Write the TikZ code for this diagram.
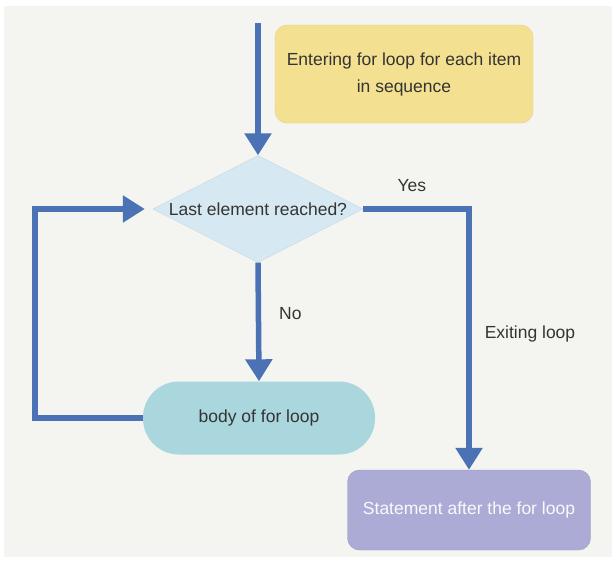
\documentclass[tikz,border=0pt]{standalone}
\usepackage{fontspec}
\setmainfont{Liberation Sans}
\usetikzlibrary{shapes.geometric, arrows.meta, positioning}

\definecolor{flowblue}{RGB}{76,114,182}
\definecolor{panelgrey}{RGB}{244,244,240}
\definecolor{entryfill}{RGB}{243,224,145}
\definecolor{entryline}{RGB}{226,208,140}
\definecolor{condfill}{RGB}{214,232,241}
\definecolor{condline}{RGB}{196,216,228}
\definecolor{bodyfill}{RGB}{170,214,222}
\definecolor{afterfill}{RGB}{171,171,214}
\definecolor{textgrey}{RGB}{52,52,50}

\begin{document}
\begin{tikzpicture}[x=1pt, y=-1pt,
  every node/.style={font=\fontsize{17.5}{27}\selectfont, text=textgrey},
  flow/.style={draw=flowblue, line width=5.5pt, -{Triangle[width=26pt,length=22pt]}},
  entrybox/.style={rectangle, rounded corners=12pt, fill=entryfill, draw=entryline,
    minimum width=258pt, minimum height=98pt, align=center},
  decision/.style={diamond, aspect=2, inner sep=0pt, fill=condfill, draw=condline,
    minimum width=210pt, minimum height=107pt},
  bodybox/.style={rectangle, rounded corners=36pt, fill=bodyfill,
    minimum width=232pt, minimum height=73pt},
  afterbox/.style={rectangle, rounded corners=12pt, fill=afterfill, draw=afterfill!92!black,
    minimum width=243pt, minimum height=80pt, text=white!94!afterfill},
  lbl/.style={inner sep=1pt}]

  \useasboundingbox (0,0) rectangle (616,563);
  \fill[panelgrey] (4,6) rectangle (612,557);

  \node[entrybox] (entry) at (404,74) {Entering for loop for each item\\in sequence};
  \node[decision] (cond) at (258,209) {Last element reached?};
  \node[bodybox] (body) at (259,418) {body of for loop};
  \node[afterbox] (after) at (469,510) {Statement after the for loop};
  \coordinate (start) at (258,23);
  \coordinate (loop) at (35,300);

  \draw[flow] (start) -- (cond.north);
  \draw[flow] (cond.south) -- node[lbl, pos=0.43, right=17pt]{No} (body.north);
  \draw[flow] (cond.east) -| node[lbl, pos=0.23, above=14pt]{Yes}
    node[lbl, pos=0.74, right=12pt]{Exiting loop} (after.north);
  \draw[flow, shorten >=8pt] (body.west) -- (body.west -| loop) |- (cond.west);
\end{tikzpicture}
\end{document}
